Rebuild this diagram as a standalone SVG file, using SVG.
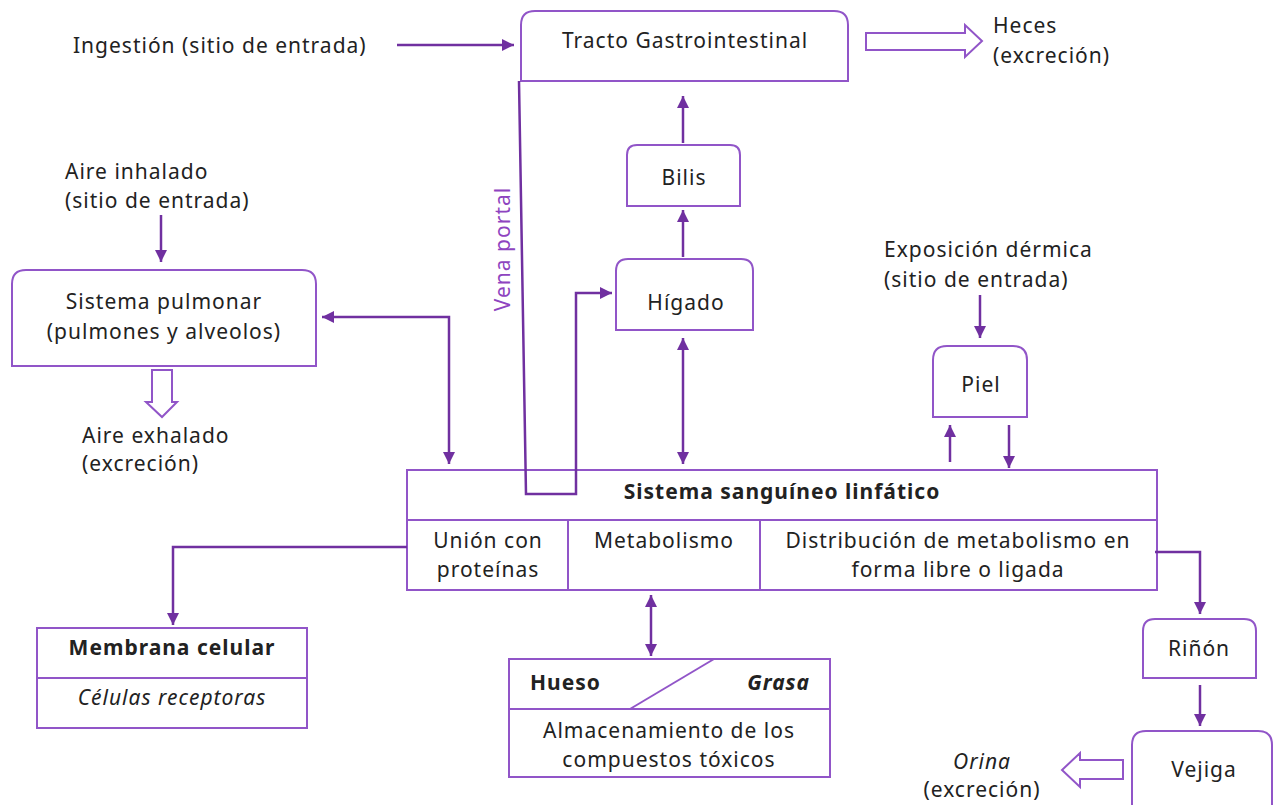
<svg xmlns="http://www.w3.org/2000/svg" width="1273" height="805" viewBox="0 0 1273 805">
<defs>
<marker id="ah" markerWidth="12" markerHeight="12" refX="10" refY="5" orient="auto-start-reverse" markerUnits="userSpaceOnUse" viewBox="0 0 10 10">
<path d="M0,0 L10,5 L0,10 Z" fill="#7030A0"/>
</marker>
<style>
.box{fill:#fff;stroke:#9155C8;stroke-width:2}
.ln{fill:none;stroke:#7030A0;stroke-width:2.5}
.hollow{fill:#fff;stroke:#9155C8;stroke-width:2}
text{font-family:"Comic Sans MS","Noto Sans",sans-serif;font-size:21px;letter-spacing:1px;fill:#222}
.c{text-anchor:middle}
.b{font-weight:bold}
</style>
</defs>
<rect width="1273" height="805" fill="#fff"/>

<g id="ingestion"><text x="73" y="53">Ingestión (sitio de entrada)</text></g>

<g id="tracto">
<path class="box" d="M521,81 V25 Q521,11 535,11 H834 Q848,11 848,25 V81 Z"/>
<text class="c" x="685" y="48">Tracto Gastrointestinal</text>
</g>

<g id="heces">
<text x="993" y="33">Heces</text>
<text x="993" y="63">(excreción)</text>
</g>

<g id="bilis">
<path class="box" d="M627,206 V155 Q627,145 637,145 H730 Q740,145 740,155 V206 Z"/>
<text class="c" x="684" y="185">Bilis</text>
</g>

<g id="higado">
<path class="box" d="M616,330 V271 Q616,259 628,259 H741 Q753,259 753,271 V330 Z"/>
<text class="c" x="686" y="310">Hígado</text>
</g>

<g id="vena">
<text class="c" x="0" y="0" transform="translate(510,249) rotate(-90)" style="fill:#8E44C0">Vena portal</text>
</g>

<g id="aire-inhalado">
<text x="65" y="179">Aire inhalado</text>
<text x="65" y="208">(sitio de entrada)</text>
</g>

<g id="pulmonar">
<path class="box" d="M12,366 V284 Q12,270 26,270 H302 Q316,270 316,284 V366 Z"/>
<text class="c" x="164" y="309">Sistema pulmonar</text>
<text class="c" x="164" y="339">(pulmones y alveolos)</text>
</g>

<g id="aire-exhalado">
<text x="82" y="443">Aire exhalado</text>
<text x="82" y="471">(excreción)</text>
</g>

<g id="exposicion">
<text x="884" y="257">Exposición dérmica</text>
<text x="884" y="287">(sitio de entrada)</text>
</g>

<g id="piel">
<path class="box" d="M933,417 V360 Q933,346 947,346 H1013 Q1027,346 1027,360 V417 Z"/>
<text class="c" x="981" y="392">Piel</text>
</g>

<g id="sistema">
<rect class="box" x="407" y="470" width="750" height="120"/>
<line class="box" x1="407" y1="520" x2="1157" y2="520"/>
<line class="box" x1="568" y1="520" x2="568" y2="590"/>
<line class="box" x1="760" y1="520" x2="760" y2="590"/>
<text class="c b" x="782" y="499">Sistema sanguíneo linfático</text>
<text class="c" x="488" y="548">Unión con</text>
<text class="c" x="488" y="577">proteínas</text>
<text class="c" x="664" y="548">Metabolismo</text>
<text class="c" x="958" y="548">Distribución de metabolismo en</text>
<text class="c" x="958" y="577">forma libre o ligada</text>
</g>

<g id="membrana">
<rect class="box" x="37" y="628" width="270" height="100"/>
<line class="box" x1="37" y1="678" x2="307" y2="678"/>
<text class="c b" x="172" y="655">Membrana celular</text>
<text class="c" x="172" y="705" font-style="italic">Células receptoras</text>
</g>

<g id="almacenamiento">
<rect class="box" x="509" y="659" width="321" height="118"/>
<line class="box" x1="509" y1="709" x2="830" y2="709"/>
<line class="box" x1="630" y1="709" x2="714" y2="659"/>
<text class="b" x="530" y="690">Hueso</text>
<text class="b" x="810" y="690" text-anchor="end" font-style="italic">Grasa</text>
<text class="c" x="669" y="738">Almacenamiento de los</text>
<text class="c" x="669" y="767">compuestos tóxicos</text>
</g>

<g id="rinon">
<path class="box" d="M1143,678 V631 Q1143,619 1155,619 H1244 Q1256,619 1256,631 V678 Z"/>
<text class="c" x="1199" y="656">Riñón</text>
</g>

<g id="vejiga">
<path class="box" d="M1132,806 V745 Q1132,731 1146,731 H1258 Q1272,731 1272,745 V806"/>
<text class="c" x="1204" y="777">Vejiga</text>
</g>

<g id="orina">
<text class="c" x="982" y="769" font-style="italic">Orina</text>
<text class="c" x="982" y="797">(excreción)</text>
</g>

<g id="connectors">
<path class="ln" d="M397,45 H514" marker-end="url(#ah)"/>
<path class="ln" d="M683,143 V96" marker-end="url(#ah)"/>
<path class="ln" d="M683,257 V210" marker-end="url(#ah)"/>
<path class="ln" d="M683,338 V464" marker-start="url(#ah)" marker-end="url(#ah)"/>
<path class="ln" d="M519,81 L526,494 H576 V293 H612" marker-end="url(#ah)"/>
<path class="ln" d="M161,215 V262" marker-end="url(#ah)"/>
<path class="ln" d="M322,317 H449 V464" marker-start="url(#ah)" marker-end="url(#ah)"/>
<path class="ln" d="M980,295 V338" marker-end="url(#ah)"/>
<path class="ln" d="M950,462 V425" marker-end="url(#ah)"/>
<path class="ln" d="M1009,425 V468" marker-end="url(#ah)"/>
<path class="ln" d="M407,547 H173 V625" marker-end="url(#ah)"/>
<path class="ln" d="M651,595 V656" marker-start="url(#ah)" marker-end="url(#ah)"/>
<path class="ln" d="M1155,552 H1200 V614" marker-end="url(#ah)"/>
<path class="ln" d="M1200,685 V726" marker-end="url(#ah)"/>
<path class="hollow" d="M866,33 H965 V25 L982,41 L965,57 V50 H866 Z"/>
<path class="hollow" d="M152,370 H172 V402 H177 L162,417 L146,402 H152 Z"/>
<path class="hollow" d="M1123,760 H1080 V753 L1062,770 L1080,787 V779 H1123 Z"/>
</g>
</svg>
